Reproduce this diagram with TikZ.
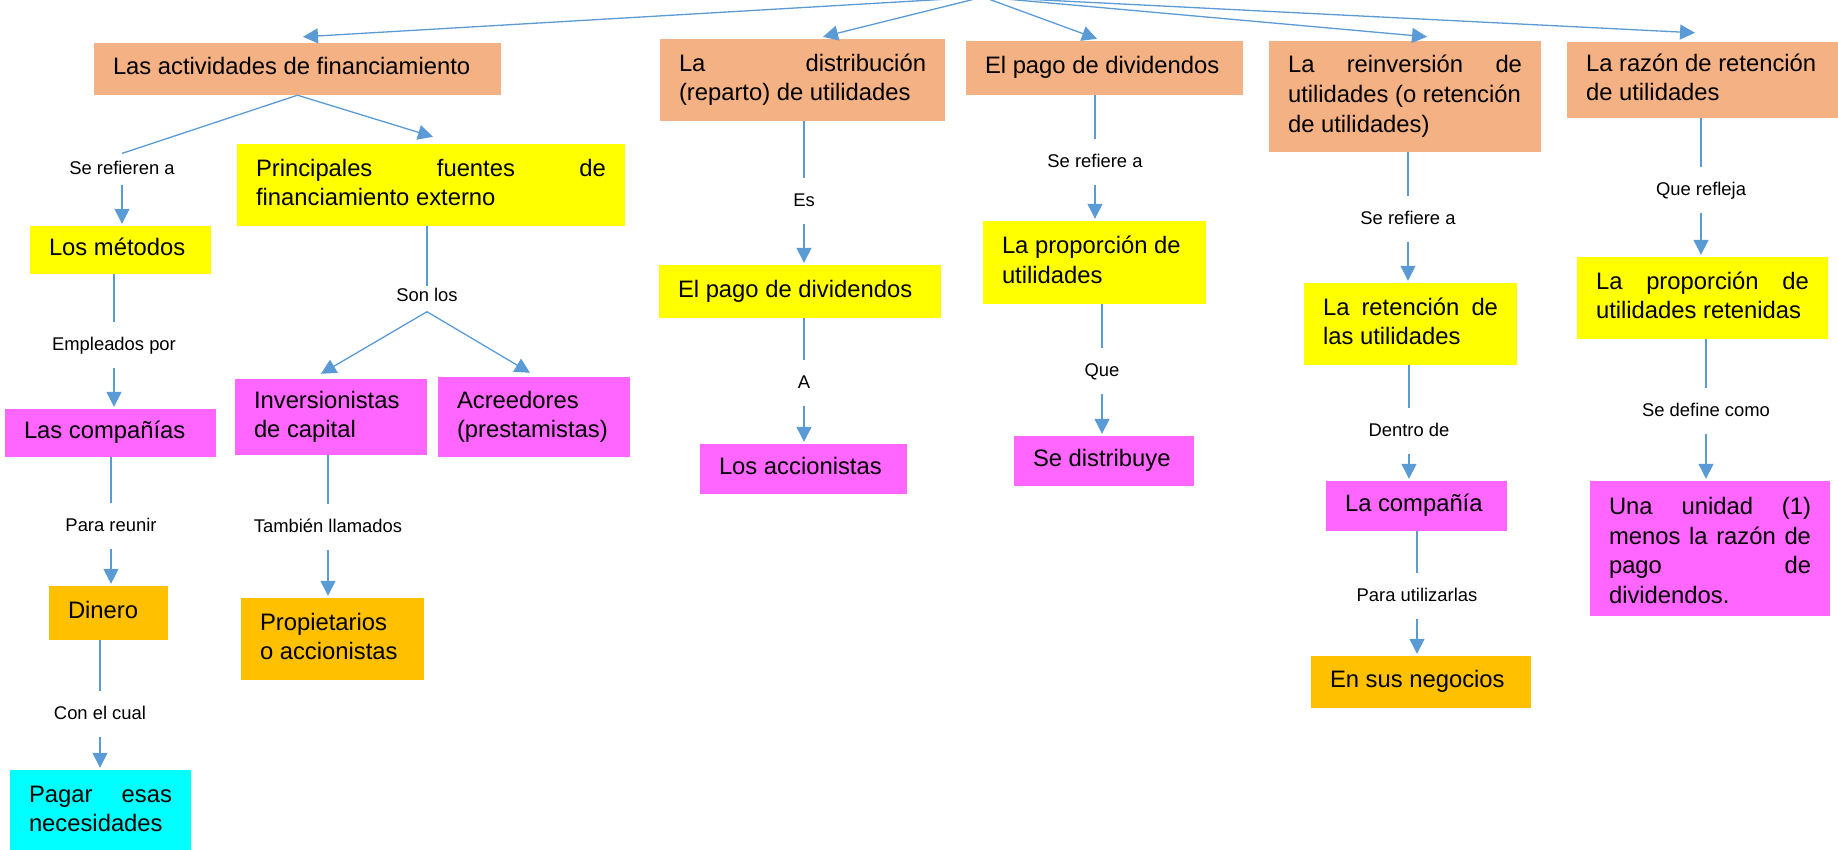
\documentclass[tikz,border=0pt]{standalone}
\usepackage{fontspec}
\setmainfont{Liberation Sans}
\usetikzlibrary{arrows.meta,calc}
\definecolor{salmon}{HTML}{F4B183}
\definecolor{yel}{HTML}{FFFF00}
\definecolor{mag}{HTML}{FF66FF}
\definecolor{org}{HTML}{FFC000}
\definecolor{cyn}{HTML}{00FFFF}
\definecolor{lineblue}{HTML}{5B9BD5}
\tikzset{
  bx/.style={rectangle, draw=none, inner xsep=19pt, inner ysep=0pt, align=justify,
    font=\fontsize{23.8}{29.8}\selectfont,
    execute at begin node=\strut, execute at end node=\strut},
  lbl/.style={font=\fontsize{18.4}{22}\selectfont, text height=13.4pt, text depth=3.5pt,
    inner xsep=1pt, inner ysep=14pt, anchor=base},
  conn/.style={draw=lineblue, line width=1.3pt},
  arr/.style={conn, -{Triangle[length=15pt,width=15pt]}, shorten >=2pt},
  toparr/.style={conn, -{Triangle[length=15pt,width=15pt]}}
}
\begin{document}
\begin{tikzpicture}[x=1pt,y=-1pt]
\useasboundingbox (0,0) rectangle (1838,849);
\clip (0,0) rectangle (1838,849);

% top-level boxes
\node[bx, fill=salmon, text width=369pt, minimum height=52pt] (A) at (297.5,69) {Las actividades de financiamiento};
\node[bx, fill=salmon, text width=247pt, minimum height=82pt] (dist) at (802.5,80) {La\hfill distribución\\(reparto) de utilidades};
\node[bx, fill=salmon, text width=239pt, minimum height=54pt] (pago) at (1104.5,68) {El pago de dividendos};
\node[bx, fill=salmon, text width=234pt, minimum height=111pt] (reinv) at (1405,96.5) {La\hfill reinversión\hfill de\\utilidades (o retención\\de utilidades)};
\node[bx, fill=salmon, text width=233pt, minimum height=76pt] (razon) at (1702.5,80) {La razón de retención\\de utilidades};

% left branch
\node[bx, fill=yel, text width=143pt, minimum height=48pt] (metodos) at (120.5,250) {Los métodos};
\node[bx, fill=yel, text width=350pt, minimum height=82pt] (P) at (431,185) {Principales\hfill fuentes\hfill de\\financiamiento externo};
\node[bx, fill=mag, text width=173pt, minimum height=48pt] (companias) at (110.5,433) {Las compañías};
\node[bx, fill=org, text width=81pt, minimum height=54pt] (dinero) at (108.5,613) {Dinero};
\node[bx, fill=cyn, text width=143pt, minimum height=82pt] (pagar) at (100.5,811) {Pagar\hfill esas\\necesidades};
\node[bx, fill=mag, text width=154pt, minimum height=76pt] (inv) at (331,417) {Inversionistas\\de capital};
\node[bx, fill=mag, text width=154pt, minimum height=80pt] (acr) at (534,417) {Acreedores\\(prestamistas)};
\node[bx, fill=org, text width=145pt, minimum height=82pt] (prop) at (332.5,639) {Propietarios\\o accionistas};

% middle branches
\node[bx, fill=yel, text width=244pt, minimum height=53pt] (pago2) at (800,291.5) {El pago de dividendos};
\node[bx, fill=mag, text width=169pt, minimum height=50pt] (accs) at (803.5,469) {Los accionistas};
\node[bx, fill=yel, text width=185pt, minimum height=83pt] (prop1) at (1094.5,262.5) {La proporción de\\utilidades};
\node[bx, fill=mag, text width=142pt, minimum height=50pt] (distrib) at (1104,461) {Se distribuye};

% right branches
\node[bx, fill=yel, text width=175pt, minimum height=82pt] (reten) at (1410.5,324) {La\hfill retención\hfill de\\las utilidades};
\node[bx, fill=mag, text width=143pt, minimum height=50pt] (comp) at (1416.5,506) {La compañía};
\node[bx, fill=org, text width=182pt, minimum height=52pt] (negocios) at (1421,682) {En sus negocios};
\node[bx, fill=yel, text width=213pt, minimum height=82pt] (retenidas) at (1702.5,298) {La\hfill proporción\hfill de\\utilidades retenidas};
\node[bx, fill=mag, text width=202pt, minimum height=135pt] (unidad) at (1710,548.5) {\rule{0pt}{30pt}Una\hfill unidad\hfill (1)\\menos\hfill la\hfill razón\hfill de\\pago\hfill de\\dividendos.};

% labels
\node[lbl, inner ysep=7pt] (l1) at (122,174) {Se refieren a};
\node[lbl] (l2) at (114,350) {Empleados por};
\node[lbl] (l3) at (111,531) {Para reunir};
\node[lbl] (l4) at (100,719) {Con el cual};
\node[lbl, text depth=9.5pt, inner ysep=1pt] (l5) at (427,301) {Son los};
\node[lbl] (l6) at (328,532) {También llamados};
\node[lbl] (l7) at (804,206) {Es};
\node[lbl] (l8) at (804,388) {A};
\node[lbl] (l9) at (1095,167) {Se refiere a};
\node[lbl] (l10) at (1102,376) {Que};
\node[lbl] (l11) at (1408,224) {Se refiere a};
\node[lbl] (l12) at (1409,436) {Dentro de};
\node[lbl] (l13) at (1417,601) {Para utilizarlas};
\node[lbl] (l14) at (1701,195) {Que refleja};
\node[lbl] (l15) at (1706,416) {Se define como};

% root connectors
\coordinate (root) at (983,-3);
\draw[toparr] (root) -- ($(A.north)+(5.5,-6)$);
\draw[toparr] (root) -- ($(dist.north)+(20.5,-2)$);
\draw[toparr] (root) -- ($(pago.north)+(-7.5,-2)$);
\draw[toparr] (root) -- ($(reinv.north)+(22,-4)$);
\draw[toparr] (root) -- ($(razon.north)+(-7.5,-9)$);

% left chain
\draw[conn] (A.south) -- (l1.north);
\draw[arr] (l1.south) -- (l1.south |- metodos.north);
\draw[toparr] (A.south) -- ($(P.north)+(2,-7)$);
\draw[conn] (metodos.south -| l2.north) -- (l2.north);
\draw[arr] (l2.south) -- (l2.south |- companias.north);
\draw[conn] (companias.south -| l3.north) -- (l3.north);
\draw[arr] (l3.south) -- (l3.south |- dinero.north);
\draw[conn] (dinero.south -| l4.north) -- (l4.north);
\draw[arr] (l4.south) -- (l4.south |- pagar.north);

% P chain
\draw[conn] (P.south -| l5.north) -- (l5.north);
\draw[toparr] (l5.south) -- ($(inv.north)+(-10,-5)$);
\draw[toparr] (l5.south) -- ($(acr.north)+(-4,-4)$);
\draw[conn] (inv.south -| l6.north) -- (l6.north);
\draw[arr] (l6.south) -- (l6.south |- prop.north);

% distribution chain
\draw[conn] (dist.south -| l7.north) -- (l7.north);
\draw[arr] (l7.south) -- (l7.south |- pago2.north);
\draw[conn] (pago2.south -| l8.north) -- (l8.north);
\draw[arr] (l8.south) -- (l8.south |- accs.north);

% dividend chain
\draw[conn] (pago.south -| l9.north) -- (l9.north);
\draw[arr] (l9.south) -- (l9.south |- prop1.north);
\draw[conn] (prop1.south -| l10.north) -- (l10.north);
\draw[arr] (l10.south) -- (l10.south |- distrib.north);

% reinvestment chain
\draw[conn] (reinv.south -| l11.north) -- (l11.north);
\draw[arr] (l11.south) -- (l11.south |- reten.north);
\draw[conn] (reten.south -| l12.north) -- (l12.north);
\draw[arr] (l12.south) -- (l12.south |- comp.north);
\draw[conn] (comp.south -| l13.north) -- (l13.north);
\draw[arr] (l13.south) -- (l13.south |- negocios.north);

% retention ratio chain
\draw[conn] (razon.south -| l14.north) -- (l14.north);
\draw[arr] (l14.south) -- (l14.south |- retenidas.north);
\draw[conn] (retenidas.south -| l15.north) -- (l15.north);
\draw[arr] (l15.south) -- (l15.south |- unidad.north);
\end{tikzpicture}
\end{document}
